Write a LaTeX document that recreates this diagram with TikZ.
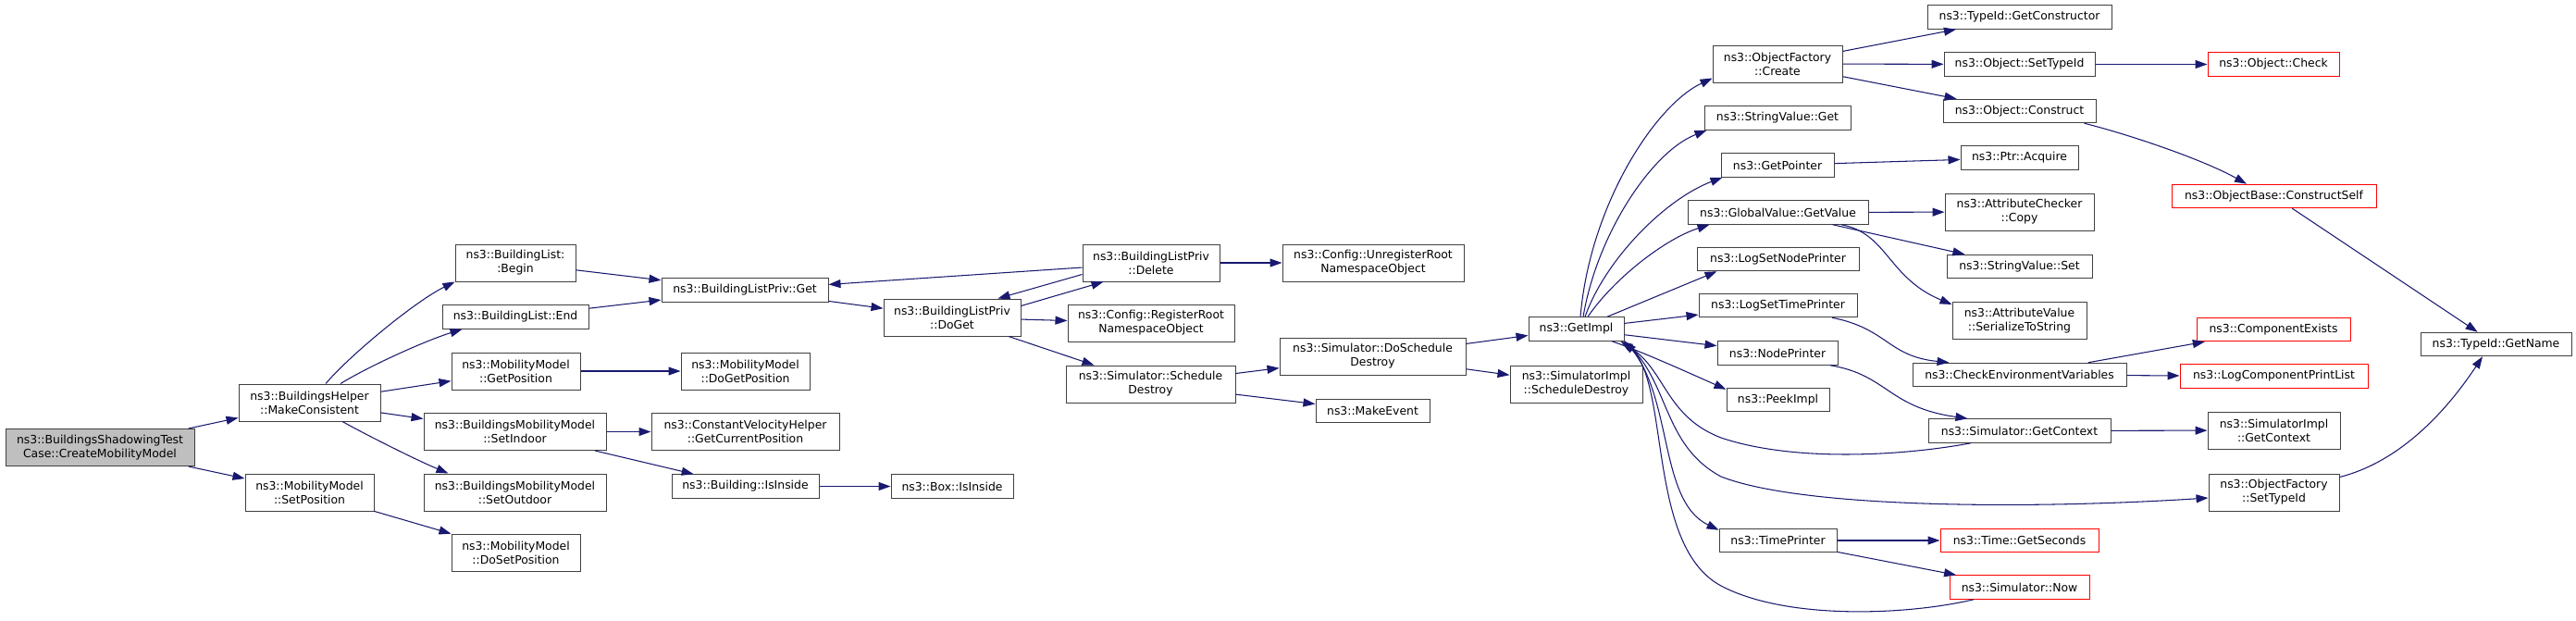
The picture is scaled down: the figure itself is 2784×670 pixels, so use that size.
\documentclass[tikz,border=0pt]{standalone}
\usepackage{fontspec}
\usepackage{tikz}
\usetikzlibrary{arrows.meta}
\newfontfamily\dejavu{DejaVu Sans}
\newcommand{\fnfont}{\dejavu\fontsize{12.4}{15}\selectfont}
\definecolor{callline}{HTML}{191970}
\definecolor{boxline}{HTML}{404040}
\definecolor{rootfill}{HTML}{BFBFBF}
\tikzset{
  fn/.style={draw=boxline, fill=white, line width=1pt, inner sep=0pt,
    align=center, font=\fnfont, minimum height=25.5},
  fn2/.style={fn, minimum height=40},
  trunc/.style={fn, draw=red},
  root/.style={fn2, fill=rootfill},
  call/.style={draw=callline, line width=1.05pt, -{Triangle[length=13pt,width=9pt]}}
}

\begin{document}
\begin{tikzpicture}[x=1pt, y=-1pt]
\path[use as bounding box, fill=white] (0,0) rectangle (2784,670);

% callers on the left
\node[root, minimum width=204] (cmm) at (108,483.5) {ns3::BuildingsShadowingTest\\Case::CreateMobilityModel};
\node[fn2, minimum width=153] (mc) at (334.5,435) {ns3::BuildingsHelper\\::MakeConsistent};
\node[fn2, minimum width=139] (msp) at (334.5,532) {ns3::MobilityModel\\::SetPosition};
\node[fn2, minimum width=130] (blb) at (557,284) {ns3::BuildingList:\\:Begin};
\node[fn, minimum width=158] (ble) at (557,342.5) {ns3::BuildingList::End};
\node[fn2, minimum width=139] (mgp) at (557.5,401) {ns3::MobilityModel\\::GetPosition};
\node[fn2, minimum width=197] (sin) at (556.5,466.5) {ns3::BuildingsMobilityModel\\::SetIndoor};
\node[fn2, minimum width=197] (sout) at (556.5,532) {ns3::BuildingsMobilityModel\\::SetOutdoor};
\node[fn2, minimum width=139] (mdsp) at (557.5,597) {ns3::MobilityModel\\::DoSetPosition};
\node[fn, minimum width=180] (blpg) at (805,313.5) {ns3::BuildingListPriv::Get};
\node[fn2, minimum width=139] (mdgp) at (805.5,401) {ns3::MobilityModel\\::DoGetPosition};
\node[fn2, minimum width=203] (cvh) at (805.5,466.5) {ns3::ConstantVelocityHelper\\::GetCurrentPosition};
\node[fn, minimum width=159] (bii) at (805.5,525.5) {ns3::Building::IsInside};
\node[fn2, minimum width=148] (blpdg) at (1029,343) {ns3::BuildingListPriv\\::DoGet};
\node[fn, minimum width=132] (box) at (1029,525.5) {ns3::Box::IsInside};
\node[fn2, minimum width=148] (blpd) at (1244,284) {ns3::BuildingListPriv\\::Delete};
\node[fn2, minimum width=180] (crr) at (1244,349) {ns3::Config::RegisterRoot\\NamespaceObject};
\node[fn2, minimum width=183] (ssd) at (1243.5,415) {ns3::Simulator::Schedule\\Destroy};
\node[fn2, minimum width=196] (cur) at (1484,284) {ns3::Config::UnregisterRoot\\NamespaceObject};
\node[fn2, minimum width=201] (sdsd) at (1483.5,385) {ns3::Simulator::DoSchedule\\Destroy};
\node[fn, minimum width=123] (me) at (1483.5,444) {ns3::MakeEvent};
\node[fn, minimum width=103] (gi) at (1703.5,355.5) {ns3::GetImpl};
\node[fn2, minimum width=143] (sisd) at (1703.5,415) {ns3::SimulatorImpl\\::ScheduleDestroy};

% callees of GetImpl
\node[fn2, minimum width=140] (ofc) at (1921,69) {ns3::ObjectFactory\\::Create};
\node[fn, minimum width=158] (svg) at (1921,127.5) {ns3::StringValue::Get};
\node[fn, minimum width=122] (gp) at (1921,178.5) {ns3::GetPointer};
\node[fn, minimum width=195] (gvgv) at (1921.5,229.5) {ns3::GlobalValue::GetValue};
\node[fn, minimum width=175] (lsnp) at (1921.5,280) {ns3::LogSetNodePrinter};
\node[fn, minimum width=171] (lstp) at (1921.5,330) {ns3::LogSetTimePrinter};
\node[fn, minimum width=130] (np) at (1921,381.5) {ns3::NodePrinter};
\node[fn, minimum width=111] (pi) at (1921.5,432) {ns3::PeekImpl};
\node[fn, minimum width=127] (tp) at (1921.5,584) {ns3::TimePrinter};

\node[fn, minimum width=199] (tgc) at (2182.5,18.5) {ns3::TypeId::GetConstructor};
\node[fn, minimum width=163] (ost) at (2182.5,69.5) {ns3::Object::SetTypeId};
\node[fn, minimum width=165] (oc) at (2182.5,120) {ns3::Object::Construct};
\node[fn, minimum width=127] (pa) at (2182.5,170.5) {ns3::Ptr::Acquire};
\node[fn2, minimum width=161] (acc) at (2182.5,229) {ns3::AttributeChecker\\::Copy};
\node[fn, minimum width=157] (svs) at (2182.5,288) {ns3::StringValue::Set};
\node[fn2, minimum width=145] (avs) at (2182.5,346.5) {ns3::AttributeValue\\::SerializeToString};
\node[fn, minimum width=231] (cev) at (2182.5,405) {ns3::CheckEnvironmentVariables};
\node[fn, minimum width=197] (sgc) at (2182.5,465.5) {ns3::Simulator::GetContext};
\node[trunc, minimum width=171] (tgs) at (2182.5,584) {ns3::Time::GetSeconds};
\node[trunc, minimum width=151] (sn) at (2182.5,634.5) {ns3::Simulator::Now};

\node[trunc, minimum width=142] (ochk) at (2457,69.5) {ns3::Object::Check};
\node[trunc, minimum width=221] (obcs) at (2457.5,212) {ns3::ObjectBase::ConstructSelf};
\node[trunc, minimum width=166] (ce) at (2457,356) {ns3::ComponentExists};
\node[trunc, minimum width=203] (lcpl) at (2457.5,406.5) {ns3::LogComponentPrintList};
\node[fn2, minimum width=143] (sigc) at (2457.5,465) {ns3::SimulatorImpl\\::GetContext};
\node[fn2, minimum width=141] (ofst) at (2457.5,532) {ns3::ObjectFactory\\::SetTypeId};
\node[fn, minimum width=163] (tgn) at (2697.5,372) {ns3::TypeId::GetName};

% straight calls
\foreach \a/\b in {cmm/mc, cmm/msp, mc/mgp, mc/sin, msp/mdsp, blb/blpg, ble/blpg,
  mgp/mdgp, sin/cvh, sin/bii, bii/box, blpg/blpdg, blpd/blpg, blpd/cur, blpdg/crr,
  blpdg/ssd, ssd/sdsd, ssd/me, sdsd/gi, sdsd/sisd, gi/lstp, gi/np, ofc/tgc, ofc/ost,
  ofc/oc, ost/ochk, obcs/tgn, gp/pa, gvgv/acc, gvgv/svs, cev/ce, cev/lcpl, sgc/sigc,
  tp/tgs, tp/sn}
  \draw[call] (\a) -- (\b);

% bent calls
\draw[call] ([shift={(17.5,0)}]mc.north) .. controls (378,384) and (448,326) .. (blb.south west);
\draw[call] ([shift={(33.5,0)}]mc.north) .. controls (400,395) and (460,368) .. ([shift={(22,0)}]ble.south west);
\draw[call] ([shift={(35.5,0)}]mc.south) .. controls (400,472) and (450,497) .. ([shift={(27,0)}]sout.north west);
\draw[call] ([shift={(0,8)}]blpdg.north east) -- ([shift={(23,0)}]blpd.south west);
\draw[call] ([shift={(0,-8)}]blpd.south west) -- ([shift={(-25,0)}]blpdg.north east);

% fan out of GetImpl
\draw[call] ([shift={(4.5,0)}]gi.north) .. controls (1718,223) and (1788,114) .. ([shift={(0,-5)}]ofc.south west);
\draw[call] ([shift={(7.5,0)}]gi.north) .. controls (1726,253) and (1785,164) .. ([shift={(3,0)}]svg.south west);
\draw[call] ([shift={(9.5,0)}]gi.north) .. controls (1735,280) and (1800,215) .. ([shift={(2,0)}]gp.south west);
\draw[call] ([shift={(12.5,0)}]gi.north) .. controls (1745,300) and (1800,258) .. ([shift={(24,0)}]gvgv.south west);
\draw[call] ([shift={(33.5,0)}]gi.north) -- ([shift={(22,0)}]lsnp.south west);
\draw[call] ([shift={(38.5,0)}]gi.south) .. controls (1775,380) and (1830,405) .. ([shift={(0,2)}]pi.north west);
\draw[call] (gi.south east) .. controls (1810,420) and (1790,540) .. ([shift={(0,2)}]tp.north west);
\draw[call] (gi.south east) .. controls (1805,410) and (1795,480) .. (1860,515)
  .. controls (1950,550) and (2200,550) .. ([shift={(0,6)}]ofst.west);
\draw[call] ([shift={(-52.5,0)}]sgc.south) .. controls (2060,492) and (1940,500) .. (1860,473)
  .. controls (1800,450) and (1800,400) .. ([shift={(-4,0)}]gi.south east);
\draw[call] ([shift={(-49.5,0)}]sn.south) .. controls (2060,665) and (1930,670) .. (1860,633)
  .. controls (1780,590) and (1805,420) .. (gi.south east);

% right hand side
\draw[call] ([shift={(-13,0)}]oc.south east) .. controls (2300,145) and (2380,172) .. ([shift={(-29.5,0)}]obcs.north);
\draw[call] ([shift={(0,4)}]ofst.north east) .. controls (2590,500) and (2640,450) .. ([shift={(-14.5,0)}]tgn.south);
\draw[call] ([shift={(68.5,0)}]gvgv.south) .. controls (2040,252) and (2040,300) .. ([shift={(0,3)}]avs.north west);
\draw[call] ([shift={(58.5,0)}]lstp.south) .. controls (2040,355) and (2040,385) .. ([shift={(40,0)}]cev.north west);
\draw[call] ([shift={(57,0)}]np.south) .. controls (2040,405) and (2040,440) .. ([shift={(43,0)}]sgc.north west);
\end{tikzpicture}
\end{document}
